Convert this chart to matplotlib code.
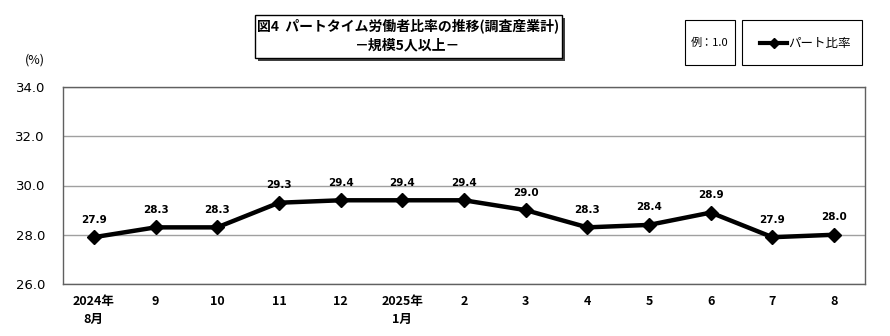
import matplotlib
matplotlib.use("Agg")
import matplotlib.pyplot as plt
from matplotlib.patches import Rectangle

plt.rcParams['font.family'] = ['Noto Sans CJK JP', 'DejaVu Sans']

months = ["2024年\n8月", "9", "10", "11", "12", "2025年\n1月", "2", "3", "4", "5", "6", "7", "8"]
ratio = [27.9, 28.3, 28.3, 29.3, 29.4, 29.4, 29.4, 29.0, 28.3, 28.4, 28.9, 27.9, 28.0]
yticks = [26.0, 28.0, 30.0, 32.0, 34.0]

W, H = 890, 336
fig = plt.figure(figsize=(W/100, H/100), dpi=100)
ax = fig.add_axes([63/W, 1-284/H, (865-63)/W, (284-87)/H])

x = list(range(len(months)))
ax.plot(x, ratio, color='black', lw=3.2, marker='D', ms=7.5, zorder=3)
for xi, v in zip(x, ratio):
    ax.annotate(f"{v:.1f}", (xi, v), xytext=(0, 9), textcoords='offset points',
                ha='center', va='bottom', fontsize=7.5, fontweight='bold', family='DejaVu Sans')

ax.set_xlim(-0.5, len(months)-0.5)
ax.set_ylim(26, 34)
ax.set_yticks(yticks)
ax.set_yticklabels([f"{t:.1f}" for t in yticks], fontsize=9.5, family='DejaVu Sans')
ax.set_xticks(x)
ax.set_xticklabels(months, fontsize=9, fontweight='bold', va='top', linespacing=1.45)
ax.tick_params(axis='both', length=0)
ax.tick_params(axis='y', pad=13)
ax.tick_params(axis='x', pad=8)
ax.grid(axis='y', color='#a0a0a0', lw=1)
ax.set_axisbelow(True)
for s in ax.spines.values():
    s.set_color('#606060')
    s.set_linewidth(1)

fig.text(25/W, 1-60/H, "(%)", fontsize=9, ha='left', va='center')

# Title box with shadow
def px_rect(x0, y0, x1, y1, **kw):
    return Rectangle((x0/W, 1-y1/H), (x1-x0)/W, (y1-y0)/H, transform=fig.transFigure, **kw)

fig.patches.append(px_rect(258, 18, 565, 61, facecolor='#404040', edgecolor='none'))
fig.patches.append(px_rect(255, 15, 562, 58, facecolor='white', edgecolor='black', lw=1))
fig.text(408/W, 1-26/H, "図4  パートタイム労働者比率の推移(調査産業計)", fontsize=10, fontweight='bold',
         ha='center', va='center')
fig.text(408/W, 1-45/H, "－規模5人以上－", fontsize=10, fontweight='bold', ha='center', va='center')

# Legend boxes
fig.patches.append(px_rect(685, 20, 735, 65, facecolor='white', edgecolor='black', lw=0.8))
fig.text(710/W, 1-43/H, "例：1.0", fontsize=8, ha='center', va='center')
fig.patches.append(px_rect(742, 20, 862, 65, facecolor='white', edgecolor='black', lw=0.8))
fig.lines.append(plt.Line2D([760/W, 787/W], [1-43/H, 1-43/H], transform=fig.transFigure,
                            color='black', lw=3, marker=None))
fig.lines.append(plt.Line2D([774/W], [1-43/H], transform=fig.transFigure,
                            color='black', marker='D', ms=5))
fig.text(788/W, 1-43/H, "パート比率", fontsize=9, ha='left', va='center')

fig.savefig("out.png", dpi=100)
